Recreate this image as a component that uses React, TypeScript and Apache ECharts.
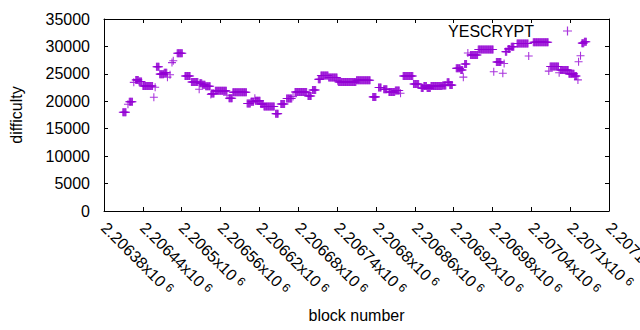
import React, { useEffect, useRef } from "react";
import * as echarts from "echarts";

// Runs of blocks with constant difficulty (start block, end block, difficulty)
const segStart = [
  2206409, 2206417, 2206419, 2206426, 2206429, 2206434, 2206440, 2206457, 2206459, 2206461,
  2206466, 2206473, 2206478, 2206482, 2206485, 2206487, 2206493, 2206505, 2206515, 2206527,
  2206528, 2206532, 2206537, 2206545, 2206546, 2206552, 2206570, 2206573, 2206579, 2206601,
  2206607, 2206613, 2206614, 2206622, 2206627, 2206645, 2206653, 2206662, 2206672, 2206675,
  2206695, 2206702, 2206711, 2206715, 2206727, 2206741, 2206742, 2206770, 2206795, 2206804,
  2206812, 2206820, 2206830, 2206838, 2206842, 2206858, 2206870, 2206874, 2206879, 2206885,
  2206903, 2206910, 2206914, 2206924, 2206931, 2206935, 2206937, 2206942, 2206946, 2206958,
  2206982, 2206986, 2206996, 2206998, 2207000, 2207004, 2207009, 2207018, 2207036, 2207043,
  2207067, 2207069, 2207083, 2207085, 2207098, 2207107, 2207112, 2207113, 2207116, 2207118,
  2207122,
];
const segEnd = [
  2206414, 2206417, 2206424, 2206426, 2206433, 2206438, 2206455, 2206457, 2206459, 2206465,
  2206472, 2206477, 2206478, 2206482, 2206485, 2206487, 2206501, 2206513, 2206525, 2206527,
  2206531, 2206536, 2206544, 2206545, 2206550, 2206569, 2206570, 2206578, 2206600, 2206606,
  2206611, 2206613, 2206621, 2206626, 2206643, 2206649, 2206659, 2206670, 2206672, 2206693,
  2206700, 2206707, 2206714, 2206726, 2206740, 2206741, 2206769, 2206791, 2206800, 2206808,
  2206817, 2206829, 2206836, 2206838, 2206857, 2206866, 2206873, 2206878, 2206884, 2206902,
  2206908, 2206913, 2206918, 2206930, 2206934, 2206935, 2206940, 2206942, 2206957, 2206981,
  2206982, 2206993, 2206996, 2206998, 2207002, 2207007, 2207013, 2207035, 2207036, 2207066,
  2207067, 2207082, 2207083, 2207097, 2207106, 2207110, 2207112, 2207113, 2207116, 2207121,
  2207125,
];
const segDiff = [
  18000, 19450, 19900, 23450, 23900, 23600, 22800, 20750, 22550, 26300,
  24950, 25200, 24400, 24850, 27050, 27400, 28750, 24600, 23500, 22200,
  23300, 23000, 22750, 21250, 21400, 21900, 21100, 20550, 21650, 19600,
  19900, 20550, 20100, 19500, 19050, 17750, 19500, 20500, 20850, 21700,
  20950, 22050, 24000, 24700, 24350, 23750, 23500, 23850, 20800, 22500,
  22200, 21700, 21950, 21450, 24600, 23150, 22400, 22800, 22400, 22800,
  22900, 23450, 22950, 26000, 25700, 24400, 26800, 28800, 28450, 29450,
  25400, 27150, 25100, 26900, 29050, 29550, 29950, 30550, 28250, 30750,
  25500, 26350, 25200, 25700, 25000, 24600, 23900, 27200, 28300, 30600,
  30850,
];

const seriesName = "YESCRYPT";
const xTitle = "block number";
const yTitle = "difficulty";
const xMin = 2206380;
const xMax = 2207160;
const xStep = 60;
const yMin = 0;
const yMax = 35000;
const yStep = 5000;

const FONT = "'Liberation Sans', Arial, sans-serif";
const PURPLE = "#9400d3";
const PLUS = "path://M0,3.9H3.9V0H5.1V3.9H9V5.1H5.1V9H3.9V5.1H0Z";

function buildPoints(): [number, number][] {
  const pts: [number, number][] = [];
  for (let i = 0; i < segStart.length; i++) {
    for (let b = segStart[i]; b <= segEnd[i]; b++) pts.push([b, segDiff[i]]);
  }
  return pts;
}

function fmtBlock(v: number): string {
  return String(parseFloat((v / 1e6).toFixed(5)));
}

export default function App() {
  const ref = useRef<HTMLDivElement>(null);
  useEffect(() => {
    if (!ref.current) return;
    const chart = echarts.init(ref.current, undefined, { renderer: "svg" });
    const axisLineStyle = { color: "#000", width: 1 };
    chart.setOption({
      animation: false,
      backgroundColor: "#fff",
      textStyle: { fontFamily: FONT },
      grid: { left: 104, right: 31, top: 19, bottom: 119, containLabel: false, outerBoundsMode: "none" },
      legend: {
        data: [seriesName],
        right: 68,
        top: 23,
        padding: 0,
        align: "right",
        icon: PLUS,
        itemWidth: 9,
        itemHeight: 9,
        textStyle: { fontSize: 16, color: "#000", fontFamily: FONT, padding: [0, 24, 0, 0] },
      },
      xAxis: [
        {
          type: "value",
          min: xMin,
          max: xMax,
          interval: xStep,
          name: xTitle,
          nameLocation: "middle",
          nameGap: 96,
          nameTextStyle: { fontSize: 16, color: "#000", fontFamily: FONT },
          axisLine: { show: true, lineStyle: axisLineStyle },
          axisTick: { show: true, inside: true, length: 4, lineStyle: axisLineStyle },
          splitLine: { show: false },
          axisLabel: {
            rotate: -45,
            margin: 14,
            color: "#000",
            hideOverlap: false,
            showMinLabel: true,
            showMaxLabel: true,
            formatter: (v: number) => `{m|${fmtBlock(v)}x10}{e|6}`,
            rich: {
              m: { fontSize: 16, color: "#000", fontFamily: FONT },
              e: { fontSize: 12, color: "#000", fontFamily: FONT, padding: [0, 0, 0, 4], verticalAlign: "top" },
            },
          },
        },
        {
          type: "value",
          position: "top",
          min: xMin,
          max: xMax,
          interval: xStep,
          axisLine: { show: true, onZero: false, lineStyle: axisLineStyle },
          axisTick: { show: true, inside: true, length: 4, lineStyle: axisLineStyle },
          axisLabel: { show: false },
          splitLine: { show: false },
        },
      ],
      yAxis: [
        {
          type: "value",
          min: yMin,
          max: yMax,
          interval: yStep,
          name: yTitle,
          nameLocation: "middle",
          nameGap: 80,
          nameTextStyle: { fontSize: 16, color: "#000", fontFamily: FONT },
          axisLine: { show: true, lineStyle: axisLineStyle },
          axisTick: { show: true, inside: true, length: 4, lineStyle: axisLineStyle },
          splitLine: { show: false },
          axisLabel: {
            fontSize: 16,
            color: "#000",
            margin: 14,
            fontFamily: FONT,
            formatter: (v: number) => String(v),
          },
        },
        {
          type: "value",
          position: "right",
          min: yMin,
          max: yMax,
          interval: yStep,
          axisLine: { show: true, onZero: false, lineStyle: axisLineStyle },
          axisTick: { show: true, inside: true, length: 4, lineStyle: axisLineStyle },
          axisLabel: { show: false },
          splitLine: { show: false },
        },
      ],
      series: [
        {
          name: seriesName,
          type: "scatter",
          symbol: PLUS,
          symbolSize: 8,
          itemStyle: { color: PURPLE },
          data: buildPoints(),
        },
      ],
    });
    return () => chart.dispose();
  }, []);
  return (
    <div
      ref={ref}
      style={{ position: "fixed", left: 0, top: 0, width: 640, height: 330, background: "#fff" }}
    />
  );
}
